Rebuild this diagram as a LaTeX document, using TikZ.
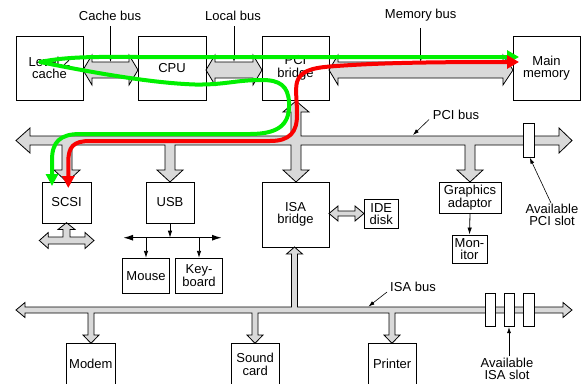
\documentclass[tikz,border=0pt]{standalone}
\usepackage{fontspec}
\setmainfont{Liberation Sans}
\usetikzlibrary{arrows.meta}
\definecolor{busgray}{RGB}{217,217,217}
\definecolor{pgreen}{RGB}{0,240,0}
\definecolor{pred}{RGB}{250,0,0}
\begin{document}
\begin{tikzpicture}[x=1pt,y=-1pt,
  font=\fontsize{13}{12.5}\selectfont,
  box/.style={draw, line width=0.9pt, inner sep=0pt, align=center},
  slot/.style={draw, line width=0.9pt, fill=white, inner sep=0pt},
  bus/.style={draw, line width=0.8pt, fill=busgray, line join=miter},
  lbl/.style={inner sep=0pt, align=center},
  larr/.style={line width=0.6pt, -{Latex[length=6pt,width=4pt]}},
  tarr/.style={line width=0.8pt, -{Latex[length=7pt,width=4.5pt]}},
  fanline/.style={line width=1.3pt, {Latex[length=10pt,width=6pt]}-{Latex[length=10pt,width=6pt]}},
  gline/.style={draw=pgreen, line width=4pt, line join=round, line cap=round,
     {Triangle[length=12pt,width=12pt]}-{Triangle[length=12pt,width=13pt]}},
  rline/.style={draw=pred, line width=4pt, line join=round, line cap=round,
     {Triangle[length=12pt,width=12pt]}-{Triangle[length=12pt,width=13pt]}}
]
\useasboundingbox (0,0) rectangle (588,383);

% ---------- buses (shapes) ----------
% cache bus
\draw[bus] (83,70) -- (92,55) -- (92,62) -- (129,62) -- (129,55) -- (138,70) -- (129,85) -- (129,78) -- (92,78) -- (92,85) -- cycle;
% local bus
\draw[bus] (206,70) -- (215,55) -- (215,62) -- (253,62) -- (253,55) -- (262,70) -- (253,85) -- (253,78) -- (215,78) -- (215,85) -- cycle;
% memory bus
\draw[bus] (329,70) -- (338,55) -- (338,62) -- (503,62) -- (503,55) -- (513,70) -- (503,85) -- (503,78) -- (338,78) -- (338,85) -- cycle;
% PCI bus with branches
\draw[bus] (16,140.5) -- (30,128) -- (30,136) -- (291,136) -- (291,112) -- (283,112) -- (296,101) -- (309,112) -- (301,112) -- (301,136) -- (559,136) -- (559,128) -- (572,140.5) -- (559,153) -- (559,145)
 -- (475,145) -- (475,170) -- (483,170) -- (470,182) -- (457,170) -- (465,170) -- (465,145)
 -- (301,145) -- (301,170) -- (309,170) -- (296,182) -- (283,170) -- (291,170) -- (291,145)
 -- (175,145) -- (175,170) -- (183,170) -- (170,182) -- (157,170) -- (165,170) -- (165,145)
 -- (72,145) -- (72,170) -- (80,170) -- (67,182) -- (54,170) -- (62,170) -- (62,145)
 -- (30,145) -- (30,153) -- cycle;
% ISA bus with branches
\draw[bus] (16,310) -- (25,302.5) -- (25,307) -- (291.5,307) -- (291.5,254) -- (286.5,254) -- (294.5,247) -- (302.5,254) -- (297.5,254) -- (297.5,307) -- (563,307) -- (563,302.5) -- (572,310) -- (563,317.5) -- (563,313)
 -- (395,313) -- (395,335) -- (400,335) -- (392,343.3) -- (384,335) -- (389,335) -- (389,313)
 -- (258,313) -- (258,335) -- (263,335) -- (255,343.3) -- (247,335) -- (252,335) -- (252,313)
 -- (94,313) -- (94,335) -- (99,335) -- (91,343.3) -- (83,335) -- (88,335) -- (88,313)
 -- (25,313) -- (25,317.5) -- cycle;
% SCSI external connector
\draw[bus] (39.3,240.5) -- (48.3,232.5) -- (48.3,237) -- (63,237) -- (63,229.5) -- (58,229.5) -- (66.5,222.7) -- (75,229.5) -- (70,229.5) -- (70,237) -- (85,237) -- (85,232.5) -- (94,240.5) -- (85,248.5) -- (85,244) -- (48.3,244) -- (48.3,248.5) -- cycle;
% ISA bridge <-> IDE disk
\draw[bus] (329,213.5) -- (338,206) -- (338,211) -- (355,211) -- (355,206) -- (364,213.5) -- (355,221) -- (355,216) -- (338,216) -- (338,221) -- cycle;

% ---------- boxes ----------
\node[box, minimum width=67pt, minimum height=64pt] (L2) at (49.5,68) {Level 2\\cache};
\node[box, minimum width=68pt, minimum height=64pt] (CPU) at (172,68) {CPU};
\node[box, minimum width=67pt, minimum height=64pt] (PCIb) at (295.5,68) {PCI\\bridge};
\node[box, minimum width=67pt, minimum height=64pt] (MM) at (546.5,68) {Main\\memory};
\node[box, minimum width=49pt, minimum height=41pt] (SCSI) at (66.5,202.5) {SCSI};
\node[box, minimum width=48pt, minimum height=41pt] (USB) at (170,202.5) {USB};
\node[box, minimum width=67pt, minimum height=65pt] (ISAb) at (295.5,214.5) {ISA\\bridge};
\node[box, minimum width=34.5pt, minimum height=29pt] (IDE) at (381.25,214) {IDE\\disk};
\node[box, minimum width=62pt, minimum height=31.5pt] (GA) at (470,197.75) {Graphics\\adaptor};
\node[box, minimum width=35pt, minimum height=28.5pt] (MON) at (469.5,249.25) {Mon-\\itor};
\node[box, minimum width=46.6pt, minimum height=35pt] (MOUSE) at (146,275.8) {Mouse};
\node[box, minimum width=46.6pt, minimum height=35pt] (KB) at (199,275.8) {Key-\\board};
\node[box, minimum width=48.3pt, minimum height=41.7pt] (MODEM) at (90.85,364.15) {Modem};
\node[box, minimum width=48.3pt, minimum height=41.7pt] (SOUND) at (255.15,364.15) {Sound\\card};
\node[box, minimum width=47.7pt, minimum height=41.7pt] (PRN) at (392.15,364.15) {Printer};
% slots
\node[slot, minimum width=11pt, minimum height=34pt] (pcislot) at (528.8,140.3) {};
\node[slot, minimum width=10pt, minimum height=33.4pt] (isaslot1) at (490,310) {};
\node[slot, minimum width=10pt, minimum height=33.4pt] (isaslot2) at (509,310) {};
\node[slot, minimum width=11pt, minimum height=33.4pt] (isaslot3) at (528.8,310) {};

% ---------- thin connectors ----------
\coordinate (fan) at (170,237.7);
\coordinate (fanL) at (123,237.7);
\coordinate (fanR) at (222,237.7);
\draw[tarr] (USB.south) -- (fan);
\draw[fanline] (fanL) -- (fanR);
\draw[tarr] (MOUSE.north |- fan) -- (MOUSE.north);
\draw[tarr] (KB.north |- fan) -- (KB.north);
\draw[tarr] (GA.south) -- (MON.north);

% ---------- labels ----------
\node[lbl] (cbl) at (110,15.5) {Cache bus};
\node[lbl] (lbl) at (233,15.5) {Local bus};
\node[lbl] (mbl) at (420.7,15.5) {Memory bus};
\node[lbl] (pbl) at (456,115) {PCI bus};
\node[lbl] (ibl) at (413,287) {ISA bus};
\node[lbl] (apl) at (552,215) {Available\\PCI slot};
\node[lbl] (ail) at (507,369) {Available\\ISA slot};
\coordinate (cbt) at (110.5,62);
\coordinate (lbt) at (234,62);
\coordinate (mbt) at (420.7,62);
\coordinate (pbs) at (429,119.5);
\coordinate (pbt) at (413,135);
\coordinate (ibs) at (387,292);
\coordinate (ibt) at (368.5,306.5);
\coordinate (aps) at (551,203);
\coordinate (ais) at (509,356);
\draw[larr] ([yshift=-6pt]cbl.south -| cbt) -- (cbt);
\draw[larr] ([yshift=-6pt]lbl.south -| lbt) -- (lbt);
\draw[larr] ([yshift=-6pt]mbl.south -| mbt) -- (mbt);
\draw[larr] (pbs) -- (pbt);
\draw[larr] (ibs) -- (ibt);
\draw[larr] (aps) -- ([xshift=1pt]pcislot.south);
\draw[larr] (ais) -- (isaslot2.south);

% ---------- coloured paths ----------
\draw[gline] (52,186) -- (52,160) .. controls (52,142) and (60,134) .. (80,134) -- (250,134)
  .. controls (282,134) and (290,122) .. (289,102) .. controls (288,86) and (280,80) .. (262,80)
  .. controls (235,80) and (225,85) .. (195,84.5) .. controls (150,83) and (90,72) .. (40,62)
  .. controls (70,56) and (100,57) .. (140,57) -- (519,57);
\draw[rline] (68.3,188) -- (68.3,162) .. controls (68.3,147) and (73,141) .. (90,141) -- (270,141)
  .. controls (290,141) and (297,132) .. (297,115) .. controls (297,100) and (295,90) .. (297,82)
  .. controls (300,72) and (310,68) .. (330,66.5) .. controls (380,62.5) and (440,62) .. (519,62);
\end{tikzpicture}
\end{document}
